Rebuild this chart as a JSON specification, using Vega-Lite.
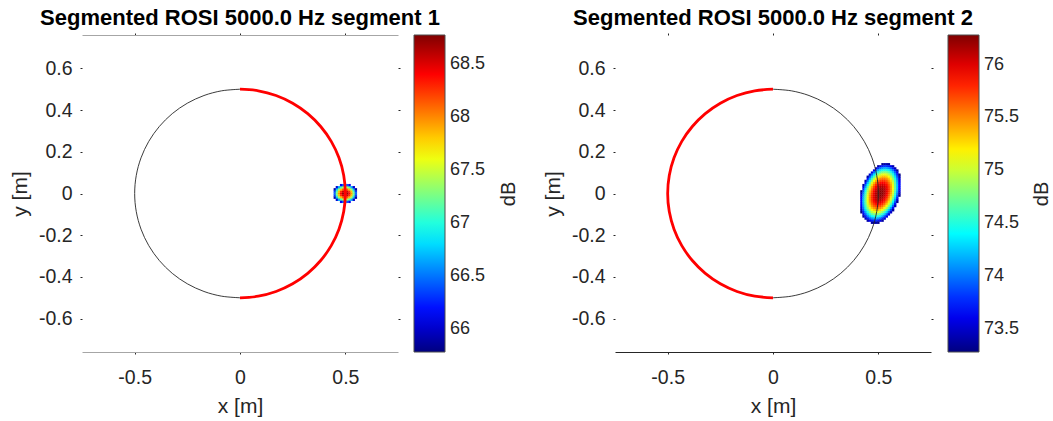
{
  "$schema": "https://vega.github.io/schema/vega-lite/v6.json",
  "background": "white",
  "padding": {"left": 9, "top": 6, "right": 0, "bottom": 2},
  "config": {
    "view": {"stroke": null},
    "font": "Liberation Sans",
    "axis": {"labelFont": "Liberation Sans", "labelFontSize": 19.5, "labelColor": "#262626", "titleFont": "Liberation Sans", "titleFontSize": 21, "titleColor": "#262626", "titleFontWeight": "normal", "tickColor": "#262626", "tickSize": 2, "grid": false},
    "title": {"font": "Liberation Sans", "fontSize": 22, "fontWeight": "bold", "color": "#000000", "offset": 3}
  },
  "datasets": {
    "rightHalf": [
      {"k": 0, "x": 0, "y": -0.5}, {"k": 1, "x": 0.0868, "y": -0.4924}, {"k": 2, "x": 0.171, "y": -0.4698}, {"k": 3, "x": 0.25, "y": -0.433}, {"k": 4, "x": 0.3214, "y": -0.383}, {"k": 5, "x": 0.383, "y": -0.3214}, {"k": 6, "x": 0.433, "y": -0.25}, {"k": 7, "x": 0.4698, "y": -0.171}, {"k": 8, "x": 0.4924, "y": -0.0868}, {"k": 9, "x": 0.5, "y": 0}, {"k": 10, "x": 0.4924, "y": 0.0868}, {"k": 11, "x": 0.4698, "y": 0.171}, {"k": 12, "x": 0.433, "y": 0.25}, {"k": 13, "x": 0.383, "y": 0.3214}, {"k": 14, "x": 0.3214, "y": 0.383}, {"k": 15, "x": 0.25, "y": 0.433}, {"k": 16, "x": 0.171, "y": 0.4698}, {"k": 17, "x": 0.0868, "y": 0.4924}, {"k": 18, "x": 0, "y": 0.5}
    ],
    "leftHalf": [
      {"k": 0, "x": 0, "y": -0.5}, {"k": 1, "x": -0.0868, "y": -0.4924}, {"k": 2, "x": -0.171, "y": -0.4698}, {"k": 3, "x": -0.25, "y": -0.433}, {"k": 4, "x": -0.3214, "y": -0.383}, {"k": 5, "x": -0.383, "y": -0.3214}, {"k": 6, "x": -0.433, "y": -0.25}, {"k": 7, "x": -0.4698, "y": -0.171}, {"k": 8, "x": -0.4924, "y": -0.0868}, {"k": 9, "x": -0.5, "y": 0}, {"k": 10, "x": -0.4924, "y": 0.0868}, {"k": 11, "x": -0.4698, "y": 0.171}, {"k": 12, "x": -0.433, "y": 0.25}, {"k": 13, "x": -0.383, "y": 0.3214}, {"k": 14, "x": -0.3214, "y": 0.383}, {"k": 15, "x": -0.25, "y": 0.433}, {"k": 16, "x": -0.171, "y": 0.4698}, {"k": 17, "x": -0.0868, "y": 0.4924}, {"k": 18, "x": 0, "y": 0.5}
    ],
    "blob1": [
      {"x": 0.45, "y": 0, "v": 66.47}, {"x": 0.46, "y": 0, "v": 67.30}, {"x": 0.47, "y": 0, "v": 67.95}, {"x": 0.48, "y": 0, "v": 68.41}, {"x": 0.49, "y": 0, "v": 68.69}, {"x": 0.50, "y": 0, "v": 68.77}, {"x": 0.51, "y": 0, "v": 68.69}, {"x": 0.52, "y": 0, "v": 68.41}, {"x": 0.53, "y": 0, "v": 67.95}, {"x": 0.54, "y": 0, "v": 67.30}, {"x": 0.55, "y": 0, "v": 66.47},
      {"x": 0.45, "y": 0.01, "v": 66.33}, {"x": 0.46, "y": 0.01, "v": 67.16}, {"x": 0.47, "y": 0.01, "v": 67.81}, {"x": 0.48, "y": 0.01, "v": 68.27}, {"x": 0.49, "y": 0.01, "v": 68.55}, {"x": 0.50, "y": 0.01, "v": 68.64}, {"x": 0.51, "y": 0.01, "v": 68.55}, {"x": 0.52, "y": 0.01, "v": 68.27}, {"x": 0.53, "y": 0.01, "v": 67.81}, {"x": 0.54, "y": 0.01, "v": 67.16}, {"x": 0.55, "y": 0.01, "v": 66.33},
      {"x": 0.45, "y": -0.01, "v": 66.33}, {"x": 0.46, "y": -0.01, "v": 67.16}, {"x": 0.47, "y": -0.01, "v": 67.81}, {"x": 0.48, "y": -0.01, "v": 68.27}, {"x": 0.49, "y": -0.01, "v": 68.55}, {"x": 0.50, "y": -0.01, "v": 68.64}, {"x": 0.51, "y": -0.01, "v": 68.55}, {"x": 0.52, "y": -0.01, "v": 68.27}, {"x": 0.53, "y": -0.01, "v": 67.81}, {"x": 0.54, "y": -0.01, "v": 67.16}, {"x": 0.55, "y": -0.01, "v": 66.33},
      {"x": 0.45, "y": 0.02, "v": 65.90}, {"x": 0.46, "y": 0.02, "v": 66.74}, {"x": 0.47, "y": 0.02, "v": 67.38}, {"x": 0.48, "y": 0.02, "v": 67.84}, {"x": 0.49, "y": 0.02, "v": 68.12}, {"x": 0.50, "y": 0.02, "v": 68.21}, {"x": 0.51, "y": 0.02, "v": 68.12}, {"x": 0.52, "y": 0.02, "v": 67.84}, {"x": 0.53, "y": 0.02, "v": 67.38}, {"x": 0.54, "y": 0.02, "v": 66.74}, {"x": 0.55, "y": 0.02, "v": 65.90},
      {"x": 0.45, "y": -0.02, "v": 65.90}, {"x": 0.46, "y": -0.02, "v": 66.74}, {"x": 0.47, "y": -0.02, "v": 67.38}, {"x": 0.48, "y": -0.02, "v": 67.84}, {"x": 0.49, "y": -0.02, "v": 68.12}, {"x": 0.50, "y": -0.02, "v": 68.21}, {"x": 0.51, "y": -0.02, "v": 68.12}, {"x": 0.52, "y": -0.02, "v": 67.84}, {"x": 0.53, "y": -0.02, "v": 67.38}, {"x": 0.54, "y": -0.02, "v": 66.74}, {"x": 0.55, "y": -0.02, "v": 65.90},
      {"x": 0.46, "y": 0.03, "v": 66.03}, {"x": 0.47, "y": 0.03, "v": 66.67}, {"x": 0.48, "y": 0.03, "v": 67.13}, {"x": 0.49, "y": 0.03, "v": 67.41}, {"x": 0.50, "y": 0.03, "v": 67.50}, {"x": 0.51, "y": 0.03, "v": 67.41}, {"x": 0.52, "y": 0.03, "v": 67.13}, {"x": 0.53, "y": 0.03, "v": 66.67}, {"x": 0.54, "y": 0.03, "v": 66.03},
      {"x": 0.46, "y": -0.03, "v": 66.03}, {"x": 0.47, "y": -0.03, "v": 66.67}, {"x": 0.48, "y": -0.03, "v": 67.13}, {"x": 0.49, "y": -0.03, "v": 67.41}, {"x": 0.50, "y": -0.03, "v": 67.50}, {"x": 0.51, "y": -0.03, "v": 67.41}, {"x": 0.52, "y": -0.03, "v": 67.13}, {"x": 0.53, "y": -0.03, "v": 66.67}, {"x": 0.54, "y": -0.03, "v": 66.03},
      {"x": 0.48, "y": 0.04, "v": 66.14}, {"x": 0.49, "y": 0.04, "v": 66.42}, {"x": 0.50, "y": 0.04, "v": 66.51}, {"x": 0.51, "y": 0.04, "v": 66.42}, {"x": 0.52, "y": 0.04, "v": 66.14},
      {"x": 0.48, "y": -0.04, "v": 66.14}, {"x": 0.49, "y": -0.04, "v": 66.42}, {"x": 0.50, "y": -0.04, "v": 66.51}, {"x": 0.51, "y": -0.04, "v": 66.42}, {"x": 0.52, "y": -0.04, "v": 66.14}
    ],
    "blob2": [
      {"x": 0.52, "y": 0.14, "v": 73.32}, {"x": 0.53, "y": 0.14, "v": 73.40}, {"x": 0.54, "y": 0.14, "v": 73.42}, {"x": 0.55, "y": 0.14, "v": 73.37},
      {"x": 0.50, "y": 0.13, "v": 73.38}, {"x": 0.51, "y": 0.13, "v": 73.59}, {"x": 0.52, "y": 0.13, "v": 73.73}, {"x": 0.53, "y": 0.13, "v": 73.81}, {"x": 0.54, "y": 0.13, "v": 73.81}, {"x": 0.55, "y": 0.13, "v": 73.75}, {"x": 0.56, "y": 0.13, "v": 73.61}, {"x": 0.57, "y": 0.13, "v": 73.41},
      {"x": 0.49, "y": 0.12, "v": 73.52}, {"x": 0.50, "y": 0.12, "v": 73.79}, {"x": 0.51, "y": 0.12, "v": 73.99}, {"x": 0.52, "y": 0.12, "v": 74.12}, {"x": 0.53, "y": 0.12, "v": 74.18}, {"x": 0.54, "y": 0.12, "v": 74.17}, {"x": 0.55, "y": 0.12, "v": 74.09}, {"x": 0.56, "y": 0.12, "v": 73.94}, {"x": 0.57, "y": 0.12, "v": 73.72}, {"x": 0.58, "y": 0.12, "v": 73.43},
      {"x": 0.48, "y": 0.11, "v": 73.59}, {"x": 0.49, "y": 0.11, "v": 73.91}, {"x": 0.50, "y": 0.11, "v": 74.17}, {"x": 0.51, "y": 0.11, "v": 74.35}, {"x": 0.52, "y": 0.11, "v": 74.47}, {"x": 0.53, "y": 0.11, "v": 74.52}, {"x": 0.54, "y": 0.11, "v": 74.49}, {"x": 0.55, "y": 0.11, "v": 74.40}, {"x": 0.56, "y": 0.11, "v": 74.24}, {"x": 0.57, "y": 0.11, "v": 74.01}, {"x": 0.58, "y": 0.11, "v": 73.70}, {"x": 0.59, "y": 0.11, "v": 73.33},
      {"x": 0.47, "y": 0.10, "v": 73.58}, {"x": 0.48, "y": 0.10, "v": 73.96}, {"x": 0.49, "y": 0.10, "v": 74.27}, {"x": 0.50, "y": 0.10, "v": 74.52}, {"x": 0.51, "y": 0.10, "v": 74.69}, {"x": 0.52, "y": 0.10, "v": 74.79}, {"x": 0.53, "y": 0.10, "v": 74.82}, {"x": 0.54, "y": 0.10, "v": 74.79}, {"x": 0.55, "y": 0.10, "v": 74.68}, {"x": 0.56, "y": 0.10, "v": 74.50}, {"x": 0.57, "y": 0.10, "v": 74.26}, {"x": 0.58, "y": 0.10, "v": 73.94}, {"x": 0.59, "y": 0.10, "v": 73.56},
      {"x": 0.46, "y": 0.09, "v": 73.50}, {"x": 0.47, "y": 0.09, "v": 73.94}, {"x": 0.48, "y": 0.09, "v": 74.31}, {"x": 0.49, "y": 0.09, "v": 74.60}, {"x": 0.50, "y": 0.09, "v": 74.83}, {"x": 0.51, "y": 0.09, "v": 74.99}, {"x": 0.52, "y": 0.09, "v": 75.08}, {"x": 0.53, "y": 0.09, "v": 75.10}, {"x": 0.54, "y": 0.09, "v": 75.05}, {"x": 0.55, "y": 0.09, "v": 74.93}, {"x": 0.56, "y": 0.09, "v": 74.74}, {"x": 0.57, "y": 0.09, "v": 74.48}, {"x": 0.58, "y": 0.09, "v": 74.15}, {"x": 0.59, "y": 0.09, "v": 73.75}, {"x": 0.60, "y": 0.09, "v": 73.29},
      {"x": 0.45, "y": 0.08, "v": 73.35}, {"x": 0.46, "y": 0.08, "v": 73.84}, {"x": 0.47, "y": 0.08, "v": 74.26}, {"x": 0.48, "y": 0.08, "v": 74.62}, {"x": 0.49, "y": 0.08, "v": 74.90}, {"x": 0.50, "y": 0.08, "v": 75.12}, {"x": 0.51, "y": 0.08, "v": 75.26}, {"x": 0.52, "y": 0.08, "v": 75.34}, {"x": 0.53, "y": 0.08, "v": 75.34}, {"x": 0.54, "y": 0.08, "v": 75.28}, {"x": 0.55, "y": 0.08, "v": 75.14}, {"x": 0.56, "y": 0.08, "v": 74.94}, {"x": 0.57, "y": 0.08, "v": 74.67}, {"x": 0.58, "y": 0.08, "v": 74.32}, {"x": 0.59, "y": 0.08, "v": 73.91}, {"x": 0.60, "y": 0.08, "v": 73.43},
      {"x": 0.45, "y": 0.07, "v": 73.67}, {"x": 0.46, "y": 0.07, "v": 74.15}, {"x": 0.47, "y": 0.07, "v": 74.56}, {"x": 0.48, "y": 0.07, "v": 74.90}, {"x": 0.49, "y": 0.07, "v": 75.17}, {"x": 0.50, "y": 0.07, "v": 75.37}, {"x": 0.51, "y": 0.07, "v": 75.50}, {"x": 0.52, "y": 0.07, "v": 75.56}, {"x": 0.53, "y": 0.07, "v": 75.55}, {"x": 0.54, "y": 0.07, "v": 75.47}, {"x": 0.55, "y": 0.07, "v": 75.33}, {"x": 0.56, "y": 0.07, "v": 75.11}, {"x": 0.57, "y": 0.07, "v": 74.82}, {"x": 0.58, "y": 0.07, "v": 74.47}, {"x": 0.59, "y": 0.07, "v": 74.04}, {"x": 0.60, "y": 0.07, "v": 73.54},
      {"x": 0.44, "y": 0.06, "v": 73.42}, {"x": 0.45, "y": 0.06, "v": 73.96}, {"x": 0.46, "y": 0.06, "v": 74.42}, {"x": 0.47, "y": 0.06, "v": 74.82}, {"x": 0.48, "y": 0.06, "v": 75.15}, {"x": 0.49, "y": 0.06, "v": 75.40}, {"x": 0.50, "y": 0.06, "v": 75.59}, {"x": 0.51, "y": 0.06, "v": 75.71}, {"x": 0.52, "y": 0.06, "v": 75.75}, {"x": 0.53, "y": 0.06, "v": 75.73}, {"x": 0.54, "y": 0.06, "v": 75.64}, {"x": 0.55, "y": 0.06, "v": 75.48}, {"x": 0.56, "y": 0.06, "v": 75.25}, {"x": 0.57, "y": 0.06, "v": 74.95}, {"x": 0.58, "y": 0.06, "v": 74.58}, {"x": 0.59, "y": 0.06, "v": 74.14}, {"x": 0.60, "y": 0.06, "v": 73.63},
      {"x": 0.44, "y": 0.05, "v": 73.70}, {"x": 0.45, "y": 0.05, "v": 74.22}, {"x": 0.46, "y": 0.05, "v": 74.67}, {"x": 0.47, "y": 0.05, "v": 75.05}, {"x": 0.48, "y": 0.05, "v": 75.36}, {"x": 0.49, "y": 0.05, "v": 75.61}, {"x": 0.50, "y": 0.05, "v": 75.78}, {"x": 0.51, "y": 0.05, "v": 75.88}, {"x": 0.52, "y": 0.05, "v": 75.92}, {"x": 0.53, "y": 0.05, "v": 75.88}, {"x": 0.54, "y": 0.05, "v": 75.77}, {"x": 0.55, "y": 0.05, "v": 75.60}, {"x": 0.56, "y": 0.05, "v": 75.35}, {"x": 0.57, "y": 0.05, "v": 75.04}, {"x": 0.58, "y": 0.05, "v": 74.66}, {"x": 0.59, "y": 0.05, "v": 74.20}, {"x": 0.60, "y": 0.05, "v": 73.68},
      {"x": 0.43, "y": 0.04, "v": 73.36}, {"x": 0.44, "y": 0.04, "v": 73.94}, {"x": 0.45, "y": 0.04, "v": 74.44}, {"x": 0.46, "y": 0.04, "v": 74.88}, {"x": 0.47, "y": 0.04, "v": 75.25}, {"x": 0.48, "y": 0.04, "v": 75.55}, {"x": 0.49, "y": 0.04, "v": 75.78}, {"x": 0.50, "y": 0.04, "v": 75.94}, {"x": 0.51, "y": 0.04, "v": 76.03}, {"x": 0.52, "y": 0.04, "v": 76.05}, {"x": 0.53, "y": 0.04, "v": 76.00}, {"x": 0.54, "y": 0.04, "v": 75.88}, {"x": 0.55, "y": 0.04, "v": 75.69}, {"x": 0.56, "y": 0.04, "v": 75.43}, {"x": 0.57, "y": 0.04, "v": 75.10}, {"x": 0.58, "y": 0.04, "v": 74.70}, {"x": 0.59, "y": 0.04, "v": 74.24}, {"x": 0.60, "y": 0.04, "v": 73.70},
      {"x": 0.43, "y": 0.03, "v": 73.58}, {"x": 0.44, "y": 0.03, "v": 74.14}, {"x": 0.45, "y": 0.03, "v": 74.64}, {"x": 0.46, "y": 0.03, "v": 75.06}, {"x": 0.47, "y": 0.03, "v": 75.42}, {"x": 0.48, "y": 0.03, "v": 75.70}, {"x": 0.49, "y": 0.03, "v": 75.92}, {"x": 0.50, "y": 0.03, "v": 76.06}, {"x": 0.51, "y": 0.03, "v": 76.14}, {"x": 0.52, "y": 0.03, "v": 76.14}, {"x": 0.53, "y": 0.03, "v": 76.08}, {"x": 0.54, "y": 0.03, "v": 75.95}, {"x": 0.55, "y": 0.03, "v": 75.74}, {"x": 0.56, "y": 0.03, "v": 75.47}, {"x": 0.57, "y": 0.03, "v": 75.13}, {"x": 0.58, "y": 0.03, "v": 74.72}, {"x": 0.59, "y": 0.03, "v": 74.24}, {"x": 0.60, "y": 0.03, "v": 73.69},
      {"x": 0.43, "y": 0.02, "v": 73.77}, {"x": 0.44, "y": 0.02, "v": 74.32}, {"x": 0.45, "y": 0.02, "v": 74.80}, {"x": 0.46, "y": 0.02, "v": 75.21}, {"x": 0.47, "y": 0.02, "v": 75.55}, {"x": 0.48, "y": 0.02, "v": 75.82}, {"x": 0.49, "y": 0.02, "v": 76.02}, {"x": 0.50, "y": 0.02, "v": 76.15}, {"x": 0.51, "y": 0.02, "v": 76.22}, {"x": 0.52, "y": 0.02, "v": 76.21}, {"x": 0.53, "y": 0.02, "v": 76.13}, {"x": 0.54, "y": 0.02, "v": 75.99}, {"x": 0.55, "y": 0.02, "v": 75.77}, {"x": 0.56, "y": 0.02, "v": 75.48}, {"x": 0.57, "y": 0.02, "v": 75.13}, {"x": 0.58, "y": 0.02, "v": 74.70}, {"x": 0.59, "y": 0.02, "v": 74.21}, {"x": 0.60, "y": 0.02, "v": 73.64},
      {"x": 0.42, "y": 0.01, "v": 73.32}, {"x": 0.43, "y": 0.01, "v": 73.93}, {"x": 0.44, "y": 0.01, "v": 74.46}, {"x": 0.45, "y": 0.01, "v": 74.93}, {"x": 0.46, "y": 0.01, "v": 75.33}, {"x": 0.47, "y": 0.01, "v": 75.65}, {"x": 0.48, "y": 0.01, "v": 75.91}, {"x": 0.49, "y": 0.01, "v": 76.10}, {"x": 0.50, "y": 0.01, "v": 76.22}, {"x": 0.51, "y": 0.01, "v": 76.26}, {"x": 0.52, "y": 0.01, "v": 76.24}, {"x": 0.53, "y": 0.01, "v": 76.15}, {"x": 0.54, "y": 0.01, "v": 75.99}, {"x": 0.55, "y": 0.01, "v": 75.76}, {"x": 0.56, "y": 0.01, "v": 75.46}, {"x": 0.57, "y": 0.01, "v": 75.09}, {"x": 0.58, "y": 0.01, "v": 74.65}, {"x": 0.59, "y": 0.01, "v": 74.15}, {"x": 0.60, "y": 0.01, "v": 73.57},
      {"x": 0.42, "y": 0, "v": 73.46}, {"x": 0.43, "y": 0, "v": 74.05}, {"x": 0.44, "y": 0, "v": 74.57}, {"x": 0.45, "y": 0, "v": 75.03}, {"x": 0.46, "y": 0, "v": 75.41}, {"x": 0.47, "y": 0, "v": 75.72}, {"x": 0.48, "y": 0, "v": 75.97}, {"x": 0.49, "y": 0, "v": 76.14}, {"x": 0.50, "y": 0, "v": 76.25}, {"x": 0.51, "y": 0, "v": 76.28}, {"x": 0.52, "y": 0, "v": 76.25}, {"x": 0.53, "y": 0, "v": 76.14}, {"x": 0.54, "y": 0, "v": 75.97}, {"x": 0.55, "y": 0, "v": 75.72}, {"x": 0.56, "y": 0, "v": 75.41}, {"x": 0.57, "y": 0, "v": 75.03}, {"x": 0.58, "y": 0, "v": 74.57}, {"x": 0.59, "y": 0, "v": 74.05}, {"x": 0.60, "y": 0, "v": 73.46},
      {"x": 0.42, "y": -0.01, "v": 73.57}, {"x": 0.43, "y": -0.01, "v": 74.15}, {"x": 0.44, "y": -0.01, "v": 74.65}, {"x": 0.45, "y": -0.01, "v": 75.09}, {"x": 0.46, "y": -0.01, "v": 75.46}, {"x": 0.47, "y": -0.01, "v": 75.76}, {"x": 0.48, "y": -0.01, "v": 75.99}, {"x": 0.49, "y": -0.01, "v": 76.15}, {"x": 0.50, "y": -0.01, "v": 76.24}, {"x": 0.51, "y": -0.01, "v": 76.26}, {"x": 0.52, "y": -0.01, "v": 76.22}, {"x": 0.53, "y": -0.01, "v": 76.10}, {"x": 0.54, "y": -0.01, "v": 75.91}, {"x": 0.55, "y": -0.01, "v": 75.65}, {"x": 0.56, "y": -0.01, "v": 75.33}, {"x": 0.57, "y": -0.01, "v": 74.93}, {"x": 0.58, "y": -0.01, "v": 74.46}, {"x": 0.59, "y": -0.01, "v": 73.93}, {"x": 0.60, "y": -0.01, "v": 73.32},
      {"x": 0.42, "y": -0.02, "v": 73.64}, {"x": 0.43, "y": -0.02, "v": 74.21}, {"x": 0.44, "y": -0.02, "v": 74.70}, {"x": 0.45, "y": -0.02, "v": 75.13}, {"x": 0.46, "y": -0.02, "v": 75.48}, {"x": 0.47, "y": -0.02, "v": 75.77}, {"x": 0.48, "y": -0.02, "v": 75.99}, {"x": 0.49, "y": -0.02, "v": 76.13}, {"x": 0.50, "y": -0.02, "v": 76.21}, {"x": 0.51, "y": -0.02, "v": 76.22}, {"x": 0.52, "y": -0.02, "v": 76.15}, {"x": 0.53, "y": -0.02, "v": 76.02}, {"x": 0.54, "y": -0.02, "v": 75.82}, {"x": 0.55, "y": -0.02, "v": 75.55}, {"x": 0.56, "y": -0.02, "v": 75.21}, {"x": 0.57, "y": -0.02, "v": 74.80}, {"x": 0.58, "y": -0.02, "v": 74.32}, {"x": 0.59, "y": -0.02, "v": 73.77},
      {"x": 0.42, "y": -0.03, "v": 73.69}, {"x": 0.43, "y": -0.03, "v": 74.24}, {"x": 0.44, "y": -0.03, "v": 74.72}, {"x": 0.45, "y": -0.03, "v": 75.13}, {"x": 0.46, "y": -0.03, "v": 75.47}, {"x": 0.47, "y": -0.03, "v": 75.74}, {"x": 0.48, "y": -0.03, "v": 75.95}, {"x": 0.49, "y": -0.03, "v": 76.08}, {"x": 0.50, "y": -0.03, "v": 76.14}, {"x": 0.51, "y": -0.03, "v": 76.14}, {"x": 0.52, "y": -0.03, "v": 76.06}, {"x": 0.53, "y": -0.03, "v": 75.92}, {"x": 0.54, "y": -0.03, "v": 75.70}, {"x": 0.55, "y": -0.03, "v": 75.42}, {"x": 0.56, "y": -0.03, "v": 75.06}, {"x": 0.57, "y": -0.03, "v": 74.64}, {"x": 0.58, "y": -0.03, "v": 74.14}, {"x": 0.59, "y": -0.03, "v": 73.58},
      {"x": 0.42, "y": -0.04, "v": 73.70}, {"x": 0.43, "y": -0.04, "v": 74.24}, {"x": 0.44, "y": -0.04, "v": 74.70}, {"x": 0.45, "y": -0.04, "v": 75.10}, {"x": 0.46, "y": -0.04, "v": 75.43}, {"x": 0.47, "y": -0.04, "v": 75.69}, {"x": 0.48, "y": -0.04, "v": 75.88}, {"x": 0.49, "y": -0.04, "v": 76.00}, {"x": 0.50, "y": -0.04, "v": 76.05}, {"x": 0.51, "y": -0.04, "v": 76.03}, {"x": 0.52, "y": -0.04, "v": 75.94}, {"x": 0.53, "y": -0.04, "v": 75.78}, {"x": 0.54, "y": -0.04, "v": 75.55}, {"x": 0.55, "y": -0.04, "v": 75.25}, {"x": 0.56, "y": -0.04, "v": 74.88}, {"x": 0.57, "y": -0.04, "v": 74.44}, {"x": 0.58, "y": -0.04, "v": 73.94}, {"x": 0.59, "y": -0.04, "v": 73.36},
      {"x": 0.42, "y": -0.05, "v": 73.68}, {"x": 0.43, "y": -0.05, "v": 74.20}, {"x": 0.44, "y": -0.05, "v": 74.66}, {"x": 0.45, "y": -0.05, "v": 75.04}, {"x": 0.46, "y": -0.05, "v": 75.35}, {"x": 0.47, "y": -0.05, "v": 75.60}, {"x": 0.48, "y": -0.05, "v": 75.77}, {"x": 0.49, "y": -0.05, "v": 75.88}, {"x": 0.50, "y": -0.05, "v": 75.92}, {"x": 0.51, "y": -0.05, "v": 75.88}, {"x": 0.52, "y": -0.05, "v": 75.78}, {"x": 0.53, "y": -0.05, "v": 75.61}, {"x": 0.54, "y": -0.05, "v": 75.36}, {"x": 0.55, "y": -0.05, "v": 75.05}, {"x": 0.56, "y": -0.05, "v": 74.67}, {"x": 0.57, "y": -0.05, "v": 74.22}, {"x": 0.58, "y": -0.05, "v": 73.70},
      {"x": 0.42, "y": -0.06, "v": 73.63}, {"x": 0.43, "y": -0.06, "v": 74.14}, {"x": 0.44, "y": -0.06, "v": 74.58}, {"x": 0.45, "y": -0.06, "v": 74.95}, {"x": 0.46, "y": -0.06, "v": 75.25}, {"x": 0.47, "y": -0.06, "v": 75.48}, {"x": 0.48, "y": -0.06, "v": 75.64}, {"x": 0.49, "y": -0.06, "v": 75.73}, {"x": 0.50, "y": -0.06, "v": 75.75}, {"x": 0.51, "y": -0.06, "v": 75.71}, {"x": 0.52, "y": -0.06, "v": 75.59}, {"x": 0.53, "y": -0.06, "v": 75.40}, {"x": 0.54, "y": -0.06, "v": 75.15}, {"x": 0.55, "y": -0.06, "v": 74.82}, {"x": 0.56, "y": -0.06, "v": 74.42}, {"x": 0.57, "y": -0.06, "v": 73.96}, {"x": 0.58, "y": -0.06, "v": 73.42},
      {"x": 0.42, "y": -0.07, "v": 73.54}, {"x": 0.43, "y": -0.07, "v": 74.04}, {"x": 0.44, "y": -0.07, "v": 74.47}, {"x": 0.45, "y": -0.07, "v": 74.82}, {"x": 0.46, "y": -0.07, "v": 75.11}, {"x": 0.47, "y": -0.07, "v": 75.33}, {"x": 0.48, "y": -0.07, "v": 75.47}, {"x": 0.49, "y": -0.07, "v": 75.55}, {"x": 0.50, "y": -0.07, "v": 75.56}, {"x": 0.51, "y": -0.07, "v": 75.50}, {"x": 0.52, "y": -0.07, "v": 75.37}, {"x": 0.53, "y": -0.07, "v": 75.17}, {"x": 0.54, "y": -0.07, "v": 74.90}, {"x": 0.55, "y": -0.07, "v": 74.56}, {"x": 0.56, "y": -0.07, "v": 74.15}, {"x": 0.57, "y": -0.07, "v": 73.67},
      {"x": 0.42, "y": -0.08, "v": 73.43}, {"x": 0.43, "y": -0.08, "v": 73.91}, {"x": 0.44, "y": -0.08, "v": 74.32}, {"x": 0.45, "y": -0.08, "v": 74.67}, {"x": 0.46, "y": -0.08, "v": 74.94}, {"x": 0.47, "y": -0.08, "v": 75.14}, {"x": 0.48, "y": -0.08, "v": 75.28}, {"x": 0.49, "y": -0.08, "v": 75.34}, {"x": 0.50, "y": -0.08, "v": 75.34}, {"x": 0.51, "y": -0.08, "v": 75.26}, {"x": 0.52, "y": -0.08, "v": 75.12}, {"x": 0.53, "y": -0.08, "v": 74.90}, {"x": 0.54, "y": -0.08, "v": 74.62}, {"x": 0.55, "y": -0.08, "v": 74.26}, {"x": 0.56, "y": -0.08, "v": 73.84}, {"x": 0.57, "y": -0.08, "v": 73.35},
      {"x": 0.42, "y": -0.09, "v": 73.29}, {"x": 0.43, "y": -0.09, "v": 73.75}, {"x": 0.44, "y": -0.09, "v": 74.15}, {"x": 0.45, "y": -0.09, "v": 74.48}, {"x": 0.46, "y": -0.09, "v": 74.74}, {"x": 0.47, "y": -0.09, "v": 74.93}, {"x": 0.48, "y": -0.09, "v": 75.05}, {"x": 0.49, "y": -0.09, "v": 75.10}, {"x": 0.50, "y": -0.09, "v": 75.08}, {"x": 0.51, "y": -0.09, "v": 74.99}, {"x": 0.52, "y": -0.09, "v": 74.83}, {"x": 0.53, "y": -0.09, "v": 74.60}, {"x": 0.54, "y": -0.09, "v": 74.31}, {"x": 0.55, "y": -0.09, "v": 73.94}, {"x": 0.56, "y": -0.09, "v": 73.50},
      {"x": 0.43, "y": -0.10, "v": 73.56}, {"x": 0.44, "y": -0.10, "v": 73.94}, {"x": 0.45, "y": -0.10, "v": 74.26}, {"x": 0.46, "y": -0.10, "v": 74.50}, {"x": 0.47, "y": -0.10, "v": 74.68}, {"x": 0.48, "y": -0.10, "v": 74.79}, {"x": 0.49, "y": -0.10, "v": 74.82}, {"x": 0.50, "y": -0.10, "v": 74.79}, {"x": 0.51, "y": -0.10, "v": 74.69}, {"x": 0.52, "y": -0.10, "v": 74.52}, {"x": 0.53, "y": -0.10, "v": 74.27}, {"x": 0.54, "y": -0.10, "v": 73.96}, {"x": 0.55, "y": -0.10, "v": 73.58},
      {"x": 0.43, "y": -0.11, "v": 73.33}, {"x": 0.44, "y": -0.11, "v": 73.70}, {"x": 0.45, "y": -0.11, "v": 74.01}, {"x": 0.46, "y": -0.11, "v": 74.24}, {"x": 0.47, "y": -0.11, "v": 74.40}, {"x": 0.48, "y": -0.11, "v": 74.49}, {"x": 0.49, "y": -0.11, "v": 74.52}, {"x": 0.50, "y": -0.11, "v": 74.47}, {"x": 0.51, "y": -0.11, "v": 74.35}, {"x": 0.52, "y": -0.11, "v": 74.17}, {"x": 0.53, "y": -0.11, "v": 73.91}, {"x": 0.54, "y": -0.11, "v": 73.59},
      {"x": 0.44, "y": -0.12, "v": 73.43}, {"x": 0.45, "y": -0.12, "v": 73.72}, {"x": 0.46, "y": -0.12, "v": 73.94}, {"x": 0.47, "y": -0.12, "v": 74.09}, {"x": 0.48, "y": -0.12, "v": 74.17}, {"x": 0.49, "y": -0.12, "v": 74.18}, {"x": 0.50, "y": -0.12, "v": 74.12}, {"x": 0.51, "y": -0.12, "v": 73.99}, {"x": 0.52, "y": -0.12, "v": 73.79}, {"x": 0.53, "y": -0.12, "v": 73.52},
      {"x": 0.45, "y": -0.13, "v": 73.41}, {"x": 0.46, "y": -0.13, "v": 73.61}, {"x": 0.47, "y": -0.13, "v": 73.75}, {"x": 0.48, "y": -0.13, "v": 73.81}, {"x": 0.49, "y": -0.13, "v": 73.81}, {"x": 0.50, "y": -0.13, "v": 73.73}, {"x": 0.51, "y": -0.13, "v": 73.59}, {"x": 0.52, "y": -0.13, "v": 73.38},
      {"x": 0.47, "y": -0.14, "v": 73.37}, {"x": 0.48, "y": -0.14, "v": 73.42}, {"x": 0.49, "y": -0.14, "v": 73.40}, {"x": 0.50, "y": -0.14, "v": 73.32}
    ]
  },
  "spacing": 24,
  "resolve": {"scale": {"color": "independent"}, "legend": {"color": "independent"}},
  "hconcat": [
    {
      "title": "Segmented ROSI 5000.0 Hz segment 1",
      "width": 316,
      "height": 317,
      "resolve": {"axis": {"x": "independent", "y": "independent"}},
      "layer": [
        {
          "data": {"name": "blob1"},
          "mark": {"type": "square", "size": 5.8, "filled": true, "opacity": 1},
          "encoding": {
            "x": {"field": "x", "type": "quantitative", "scale": {"domain": [-0.75, 0.75], "nice": false, "zero": false},
              "axis": {"orient": "bottom", "values": [-0.5, 0, 0.5], "title": "x [m]", "domainColor": "#a6a6a6", "domainWidth": 1, "labelPadding": 14, "titlePadding": 9, "labelExpr": "datum.value == 0 ? '0' : replace(format(datum.value, '.1f'), '\u2212', '-')"}},
            "y": {"field": "y", "type": "quantitative", "scale": {"domain": [-0.76, 0.76], "nice": false, "zero": false},
              "axis": {"orient": "left", "values": [-0.6, -0.4, -0.2, 0, 0.2, 0.4, 0.6], "title": "y [m]", "domain": false, "labelPadding": 8, "titlePadding": 8, "labelExpr": "datum.value == 0 ? '0' : replace(format(datum.value, '.1f'), '\u2212', '-')"}},
            "color": {"field": "v", "type": "quantitative",
              "scale": {"type": "linear", "domain": [65.78, 66.154, 66.901, 67.649, 68.396, 68.77], "range": ["#000080", "#0000ff", "#00ffff", "#ffff00", "#ff0000", "#800000"], "interpolate": "rgb"},
              "legend": {"orient": "none", "legendX": 332, "legendY": 0, "direction": "vertical", "padding": 0, "gradientLength": 317, "gradientThickness": 31, "gradientStrokeColor": "#4d4d4d", "gradientStrokeWidth": 1, "values": [66, 66.5, 67, 67.5, 68, 68.5], "labelExpr": "format(datum.value, '~g')", "labelFont": "Liberation Sans", "labelFontSize": 18, "labelColor": "#262626", "labelOffset": 5, "labelOverlap": false, "title": null}}
          }
        },
        {
          "data": {"name": "leftHalf"},
          "mark": {"type": "line", "color": "#262626", "strokeWidth": 0.9, "interpolate": "catmull-rom"},
          "encoding": {
            "x": {"field": "x", "type": "quantitative", "axis": {"orient": "top", "values": [-0.5, 0, 0.5], "labels": false, "title": null, "domainColor": "#a6a6a6", "domainWidth": 1}},
            "y": {"field": "y", "type": "quantitative", "axis": {"orient": "right", "values": [-0.6, -0.4, -0.2, 0, 0.2, 0.4, 0.6], "labels": false, "domain": false, "title": "dB", "titleAngle": 270, "titleX": 110, "titleY": 158.5, "titleAlign": "center", "titleBaseline": "middle", "titleFontSize": 20}},
            "order": {"field": "k"}
          }
        },
        {
          "data": {"name": "rightHalf"},
          "mark": {"type": "line", "color": "#ff0000", "strokeWidth": 2.8, "interpolate": "catmull-rom"},
          "encoding": {
            "x": {"field": "x", "type": "quantitative", "axis": null},
            "y": {"field": "y", "type": "quantitative", "axis": null},
            "order": {"field": "k"}
          }
        }
      ]
    },
    {
      "title": "Segmented ROSI 5000.0 Hz segment 2",
      "width": 316,
      "height": 317,
      "resolve": {"axis": {"x": "independent", "y": "independent"}},
      "layer": [
        {
          "data": {"name": "blob2"},
          "mark": {"type": "square", "size": 6, "filled": true, "opacity": 1},
          "encoding": {
            "x": {"field": "x", "type": "quantitative", "scale": {"domain": [-0.75, 0.75], "nice": false, "zero": false},
              "axis": {"orient": "bottom", "values": [-0.5, 0, 0.5], "title": "x [m]", "domainColor": "#262626", "domainWidth": 1.2, "labelPadding": 14, "titlePadding": 9, "labelExpr": "datum.value == 0 ? '0' : replace(format(datum.value, '.1f'), '\u2212', '-')"}},
            "y": {"field": "y", "type": "quantitative", "scale": {"domain": [-0.76, 0.76], "nice": false, "zero": false},
              "axis": {"orient": "left", "values": [-0.6, -0.4, -0.2, 0, 0.2, 0.4, 0.6], "title": "y [m]", "domain": false, "labelPadding": 8, "titlePadding": 8, "labelExpr": "datum.value == 0 ? '0' : replace(format(datum.value, '.1f'), '\u2212', '-')"}},
            "color": {"field": "v", "type": "quantitative",
              "scale": {"type": "linear", "domain": [73.28, 73.655, 74.405, 75.155, 75.905, 76.28], "range": ["#000080", "#0000ff", "#00ffff", "#ffff00", "#ff0000", "#800000"], "interpolate": "rgb"},
              "legend": {"orient": "none", "legendX": 333, "legendY": 0, "direction": "vertical", "padding": 0, "gradientLength": 317, "gradientThickness": 31, "gradientStrokeColor": "#4d4d4d", "gradientStrokeWidth": 1, "values": [73.5, 74, 74.5, 75, 75.5, 76], "labelExpr": "format(datum.value, '~g')", "labelFont": "Liberation Sans", "labelFontSize": 18, "labelColor": "#262626", "labelOffset": 5, "labelOverlap": false, "title": null}}
          }
        },
        {
          "data": {"name": "rightHalf"},
          "mark": {"type": "line", "color": "#262626", "strokeWidth": 0.9, "interpolate": "catmull-rom"},
          "encoding": {
            "x": {"field": "x", "type": "quantitative", "axis": {"orient": "top", "values": [-0.5, 0, 0.5], "labels": false, "title": null, "domain": false}},
            "y": {"field": "y", "type": "quantitative", "axis": {"orient": "right", "values": [-0.6, -0.4, -0.2, 0, 0.2, 0.4, 0.6], "labels": false, "domain": false, "title": "dB", "titleAngle": 270, "titleX": 110, "titleY": 158.5, "titleAlign": "center", "titleBaseline": "middle", "titleFontSize": 20}},
            "order": {"field": "k"}
          }
        },
        {
          "data": {"name": "leftHalf"},
          "mark": {"type": "line", "color": "#ff0000", "strokeWidth": 2.8, "interpolate": "catmull-rom"},
          "encoding": {
            "x": {"field": "x", "type": "quantitative", "axis": null},
            "y": {"field": "y", "type": "quantitative", "axis": null},
            "order": {"field": "k"}
          }
        }
      ]
    }
  ]
}
